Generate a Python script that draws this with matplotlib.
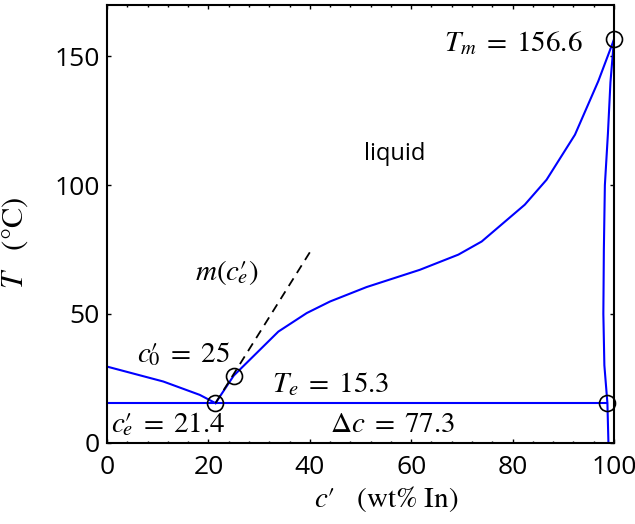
import matplotlib
matplotlib.use("Agg")
import matplotlib.pyplot as plt
from matplotlib.ticker import MultipleLocator

plt.rcParams['mathtext.fontset'] = 'stix'
plt.rcParams['font.family'] = ['Open Sans', 'DejaVu Sans']

# Liquidus (In-rich side), from eutectic to In melting point
liq_c = [21.4, 25.0, 33.8, 39.4, 44.0, 51.2, 61.7, 69.3, 73.9, 82.4, 86.7, 92.3, 96.9, 100.0]
liq_T = [15.3, 26.0, 43.1, 50.3, 54.8, 60.4, 67.1, 73.0, 78.1, 92.4, 102.1, 119.6, 140.4, 156.6]

# Liquidus (Bi-rich side)
liqL_c = [0.0, 11.1, 18.3, 21.4]
liqL_T = [29.5, 23.7, 18.5, 15.3]

# Solidus / solvus on the In-rich side
sol_c = [100.0, 99.3, 98.8, 98.2, 98.0, 97.9, 98.1, 98.7, 98.9]
sol_T = [156.6, 140.0, 120.0, 100.0, 75.0, 50.0, 30.0, 15.3, 0.0]

# Eutectic isotherm
eut_c = [0.0, 98.7]
Te = 15.3

# Tangent slope at eutectic
ce = 21.4
m_slope = 3.15
tan_c = [21.4, 40.0]

# Marked points
pts_c = [21.4, 25.0, 100.0, 98.7]
pts_T = [15.3, 26.0, 156.6, 15.3]

xticks = [0, 20, 40, 60, 80, 100]
yticks = [0, 50, 100, 150]

fig = plt.figure(figsize=(6.35, 5.24), dpi=100)
ax = fig.add_axes([107/635, 1-442.5/524, (614-107)/635, (442.5-5)/524])

blue = '#0000ff'
ax.plot(liq_c, liq_T, color=blue, lw=1.5)
ax.plot(liqL_c, liqL_T, color=blue, lw=1.5)
ax.plot(sol_c, sol_T, color=blue, lw=1.5)
ax.plot(eut_c, [Te, Te], color=blue, lw=1.5)
tan_T = [Te + m_slope * (c - ce) for c in tan_c]
ax.plot(tan_c, tan_T, color='black', lw=1.3, ls=(0, (5, 3.5)))
ax.plot(pts_c, pts_T, ls='none', marker='o', ms=11.5, mfc='none', mec='black', mew=1.2, clip_on=False)

ax.set_xlim(0, 100)
ax.set_ylim(0, 170)
ax.set_xticks(xticks)
ax.set_yticks(yticks)
ax.xaxis.set_minor_locator(MultipleLocator(4))
ax.tick_params(which='both', direction='in', top=True, right=True, labelsize=19)
ax.tick_params(which='major', length=3, width=1)
ax.tick_params(which='minor', length=1.5, width=1)
ax.tick_params(axis='x', which='major', pad=9)
ax.tick_params(axis='y', which='major', pad=5)
for s in ax.spines.values():
    s.set_linewidth(1.5)

fs = 21
eq = r'\;=\;'
cp = r'c\prime'
sub = lambda s: r'_{\!\!\!\!' + s + '}'
ax.text(93.9, 152.0, r'$T_m' + eq + r'156.6$', fontsize=fs, ha='right', va='baseline')
ax.text(56.8, 112, 'liquid', fontsize=17, ha='center', va='center')
ax.text(17.4, 63.2, r"$m(" + cp + sub('e') + r")$", fontsize=fs, ha='left', va='baseline')
ax.text(5.9, 31.3, r"$" + cp + sub('0') + eq + r"25$", fontsize=fs, ha='left', va='baseline')
ax.text(32.5, 19.6, r"$T_e" + eq + r"15.3$", fontsize=fs, ha='left', va='baseline')
ax.text(0.8, 4.1, r"$" + cp + sub('e') + eq + r"21.4$", fontsize=fs, ha='left', va='baseline')
ax.text(44, 4.1, r"$\Delta c" + eq + r"77.3$", fontsize=fs, ha='left', va='baseline')

ax.set_xlabel(r"$" + cp + r"\ \ \ \mathrm{(wt\%\ In)}$", fontsize=21)
ax.xaxis.set_label_coords((386 - 107) / 507, -(484 - 442.5) / 437.5)
ax.set_ylabel(r"$T\ \ \ \mathrm{(°C)}$", fontsize=22)
ax.yaxis.set_label_coords(-(107 - 30) / 507, (442.5 - 243) / 437.5)

fig.savefig('out.png', dpi=100)
